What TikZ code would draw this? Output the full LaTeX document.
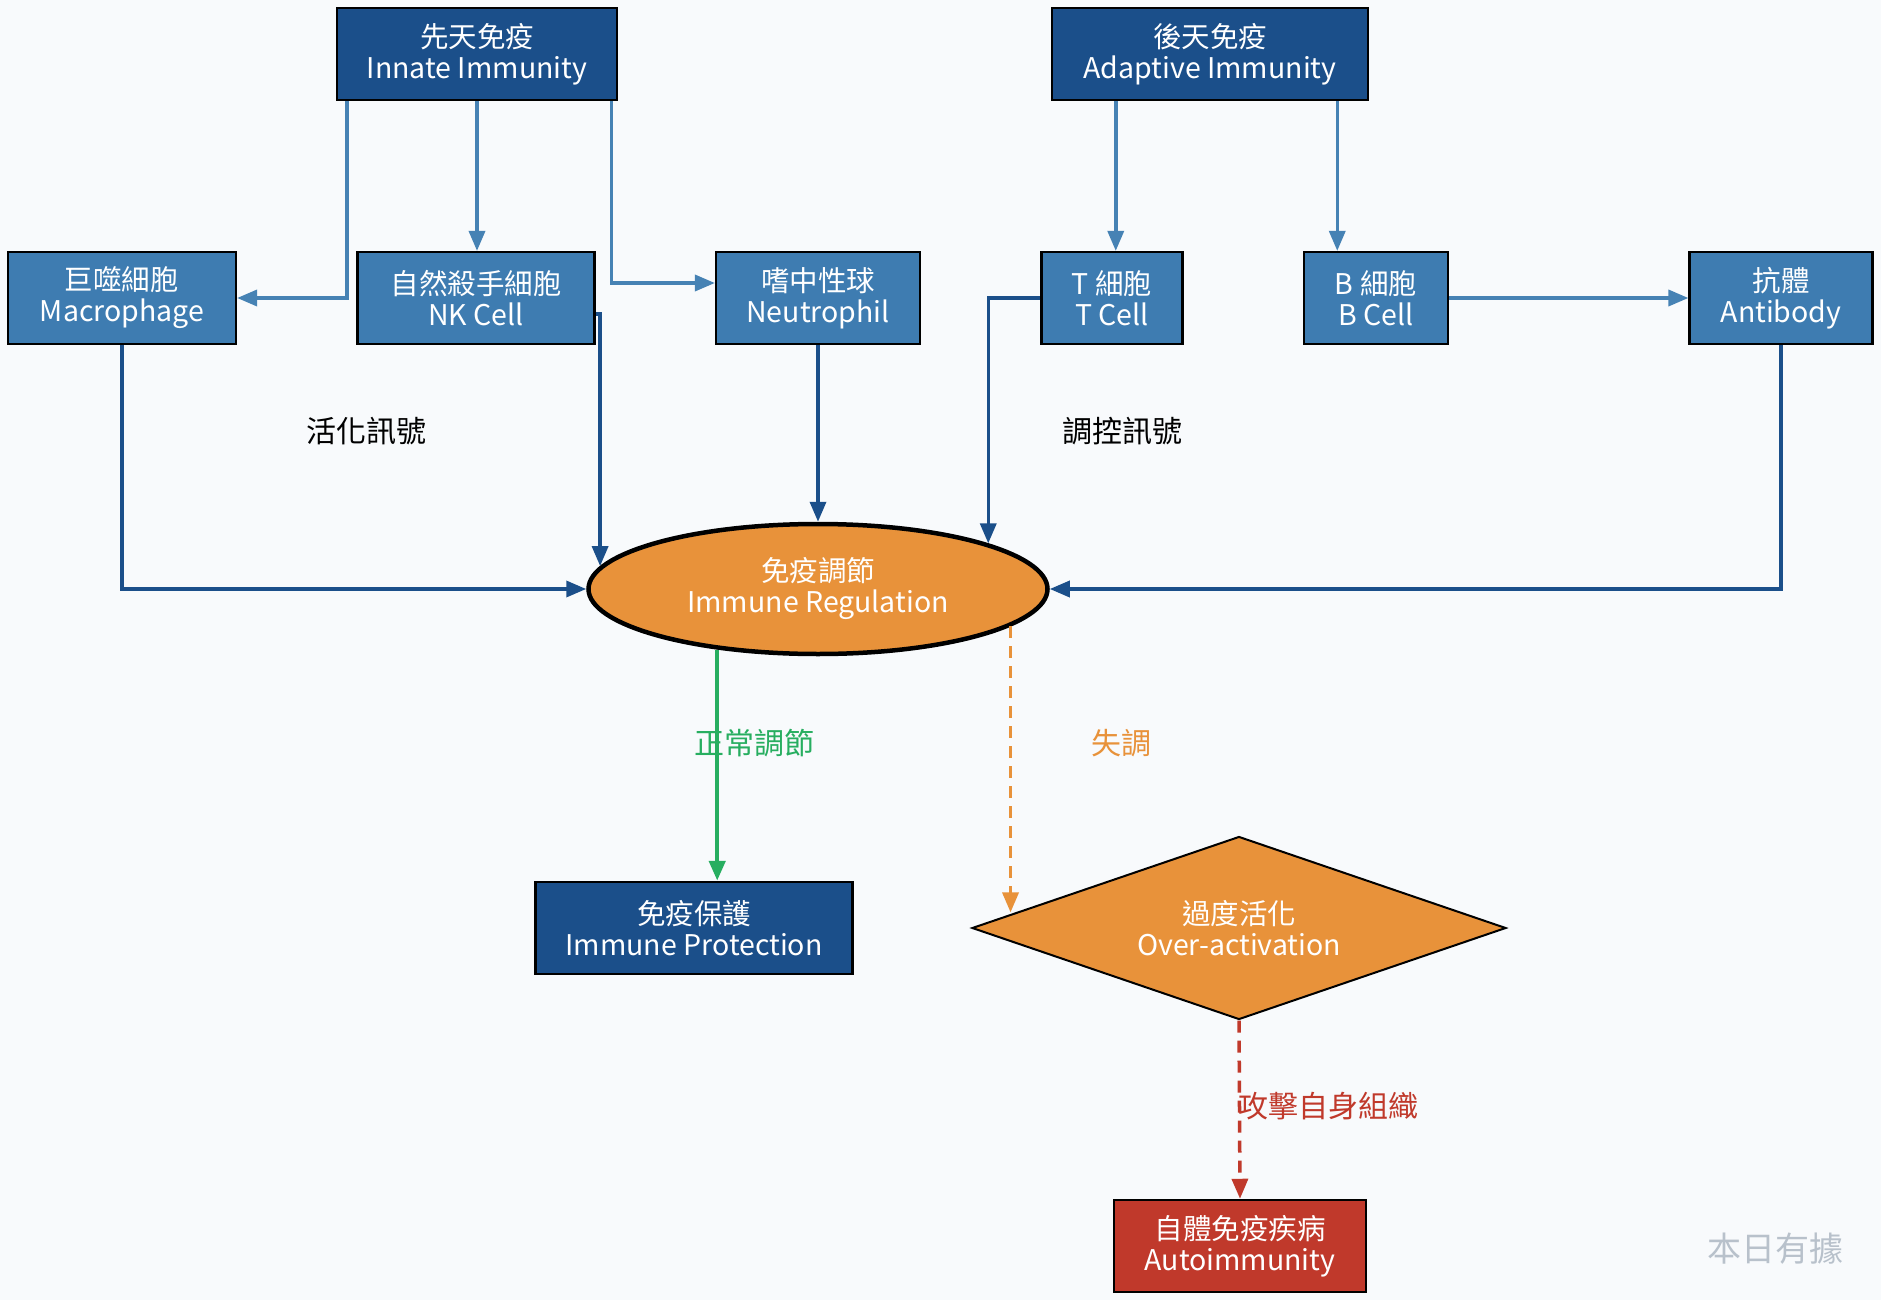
\documentclass[tikz,border=0pt]{standalone}
\usepackage{fontspec}
\setmainfont{Noto Sans CJK TC}
\usetikzlibrary{arrows.meta,shapes.geometric,calc}
\definecolor{bgc}{HTML}{F8FAFC}
\definecolor{dblue}{HTML}{1B4F8A}
\definecolor{sblue}{HTML}{3E7CB1}
\definecolor{larr}{HTML}{4682B4}
\definecolor{orng}{HTML}{E8923A}
\definecolor{redc}{HTML}{C0392B}
\definecolor{grn}{HTML}{27AE60}
\definecolor{wmark}{HTML}{B8C1CB}
\begin{document}
\begin{tikzpicture}[x=1pt,y=-1pt,
  txt/.style={font=\fontsize{28.5}{31}\selectfont},
  topbox/.style={txt,draw=black,line width=2.5pt,fill=dblue,text=white,align=center,inner sep=0pt,minimum height=92pt},
  cellbox/.style={txt,draw=black,line width=2.2pt,fill=sblue,text=white,align=center,inner sep=0pt,minimum height=92pt},
  tip/.style={-{Triangle[length=20pt,width=16pt]}},
  lightarr/.style={draw=larr,line width=3.5pt,tip},
  darkarr/.style={draw=dblue,line width=3.5pt,tip},
  lbl/.style={font=\fontsize{30}{34}\selectfont}
]
\path[fill=bgc] (0,0) rectangle (1881,1300);
\useasboundingbox (0,0) rectangle (1881,1300);

% nodes
\node[topbox,minimum width=280pt] (innate) at (477,54) {先天免疫\\Innate Immunity};
\node[topbox,minimum width=316pt] (adapt) at (1210,54) {後天免疫\\Adaptive Immunity};
\node[cellbox,minimum width=228pt] (macro) at (122,298) {巨噬細胞\\Macrophage};
\node[cellbox,minimum width=237pt] (nk) at (476,298) {自然殺手細胞\\NK Cell};
\node[cellbox,minimum width=204pt] (neut) at (818,298) {嗜中性球\\Neutrophil};
\node[cellbox,minimum width=141pt] (tcell) at (1112,298) {T 細胞\\T Cell};
\node[cellbox,minimum width=144pt] (bcell) at (1376,298) {B 細胞\\B Cell};
\node[cellbox,minimum width=183pt] (anti) at (1781,298) {抗體\\Antibody};
\node[txt,ellipse,draw=black,line width=4.5pt,fill=orng,text=white,align=center,inner sep=0pt,minimum width=459pt,minimum height=130pt] (reg) at (818,589) {免疫調節\\Immune Regulation};
\node[topbox,minimum width=317pt] (prot) at (694,928) {免疫保護\\Immune Protection};
\node[txt,diamond,draw=black,line width=2pt,fill=orng,text=white,align=center,inner sep=0pt,aspect=2.92,minimum width=534pt,minimum height=183pt] (dia) at (1239,928) {過度活化\\Over-activation};
\node[txt,draw=black,line width=2.5pt,fill=redc,text=white,align=center,inner sep=0pt,minimum height=92pt,minimum width=252pt] (auto) at (1240,1246) {自體免疫疾病\\Autoimmunity};

% labels
\node[lbl] (l1) at (366,431) {活化訊號};
\node[lbl] (l2) at (1122,431) {調控訊號};
\node[lbl,text=grn] (l3) at (754,743) {正常調節};
\node[lbl,text=orng] (l4) at (1121,743) {失調};
\node[lbl,text=redc] (l5) at (1328,1106) {攻擊自身組織};
\node[font=\fontsize{34}{38}\selectfont,text=wmark] (wm) at (1775,1249) {本日有據};

% light arrows
\coordinate (i1) at ([xshift=11pt]innate.south west);
\coordinate (i3) at ([xshift=-7pt]innate.south east);
\coordinate (a1) at ([xshift=65pt]adapt.south west);
\coordinate (a2) at ([xshift=-32pt]adapt.south east);
\draw[lightarr] (i1) |- (macro.east);
\draw[lightarr] (innate.south) -- (innate.south |- nk.north);
\draw[lightarr] (i3) |- ([yshift=15pt]neut.west);
\draw[lightarr] (a1) -- (a1 |- tcell.north);
\draw[lightarr] (a2) -- (a2 |- bcell.north);
\draw[lightarr] (bcell.east) -- (anti.west);

% dark arrows
\draw[darkarr] (macro.south) |- (reg.west);
\draw[darkarr] ([yshift=-16pt]nk.east) -| (reg.174.5);
\draw[darkarr] (neut.south) -- (reg.north);
\draw[darkarr] (tcell.west) -| (reg.15.5);
\draw[darkarr] (anti.south) |- (reg.east);

% outputs
\draw[draw=grn,line width=4.5pt,tip] (reg.211) -- (reg.211 |- prot.north);
\draw[draw=orng,line width=3.5pt,dash pattern=on 12pt off 8pt,tip] (reg.349.5) -- (reg.349.5 |- dia.176.75);
\draw[draw=redc,line width=3.5pt,dash pattern=on 12pt off 8pt,tip] (dia.south) -- (auto.north);
\end{tikzpicture}
\end{document}
